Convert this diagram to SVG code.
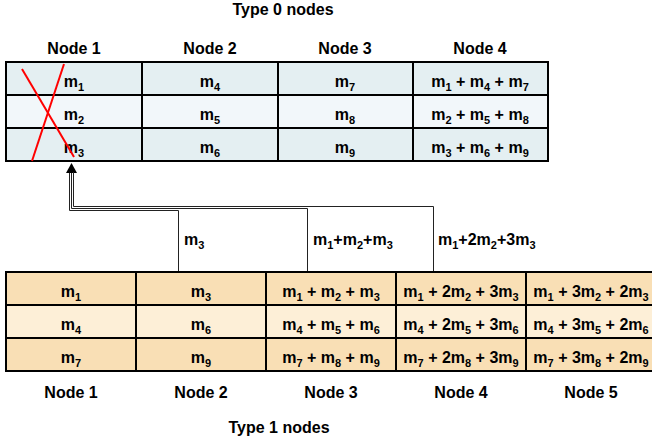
<svg xmlns="http://www.w3.org/2000/svg" width="652" height="445" viewBox="0 0 652 445">
<style>
text{font-family:"Liberation Sans",Arial,sans-serif;font-weight:bold;font-size:16px;fill:#000}
.c{text-anchor:middle}
.s{font-size:11px}
.b1{fill:#e4eff2;stroke:#000;stroke-width:2}
.b2{fill:#f2f7fa;stroke:#000;stroke-width:2}
.o1{fill:#f9dfb5;stroke:#000;stroke-width:2}
.o2{fill:#fdefd7;stroke:#000;stroke-width:2}
.cn{fill:none;stroke:#222;stroke-width:1}
.x{stroke:#ff0000;stroke-width:2}
</style>
<defs>
<marker id="ah" markerWidth="10" markerHeight="11" refX="0" refY="5.5" orient="auto" markerUnits="userSpaceOnUse" viewBox="0 0 10 11">
<path d="M0,0 L10,5.5 L0,11 Z" fill="#000"/>
</marker>
</defs>
<text class="c" x="283" y="15">Type 0 nodes</text>
<text class="c" x="279" y="433">Type 1 nodes</text>

<g id="t0-node1">
<text class="c" x="74" y="54">Node 1</text>
<rect class="b1" x="6" y="62" width="136" height="33"/>
<rect class="b2" x="6" y="95" width="136" height="33"/>
<rect class="b1" x="6" y="128" width="136" height="33"/>
<text class="c" x="74" y="87">m<tspan class="s" dy="4">1</tspan></text>
<text class="c" x="74" y="120">m<tspan class="s" dy="4">2</tspan></text>
<text class="c" x="74" y="153">m<tspan class="s" dy="4">3</tspan></text>
<line class="x" x1="22" y1="69" x2="74" y2="157"/>
<line class="x" x1="64" y1="64" x2="32" y2="161"/>
</g>
<g id="t0-node2">
<text class="c" x="210" y="54">Node 2</text>
<rect class="b1" x="142" y="62" width="136" height="33"/>
<rect class="b2" x="142" y="95" width="136" height="33"/>
<rect class="b1" x="142" y="128" width="136" height="33"/>
<text class="c" x="210" y="87">m<tspan class="s" dy="4">4</tspan></text>
<text class="c" x="210" y="120">m<tspan class="s" dy="4">5</tspan></text>
<text class="c" x="210" y="153">m<tspan class="s" dy="4">6</tspan></text>
</g>
<g id="t0-node3">
<text class="c" x="345" y="54">Node 3</text>
<rect class="b1" x="278" y="62" width="135" height="33"/>
<rect class="b2" x="278" y="95" width="135" height="33"/>
<rect class="b1" x="278" y="128" width="135" height="33"/>
<text class="c" x="345" y="87">m<tspan class="s" dy="4">7</tspan></text>
<text class="c" x="345" y="120">m<tspan class="s" dy="4">8</tspan></text>
<text class="c" x="345" y="153">m<tspan class="s" dy="4">9</tspan></text>
</g>
<g id="t0-node4">
<text class="c" x="480" y="54">Node 4</text>
<rect class="b1" x="413" y="62" width="135" height="33"/>
<rect class="b2" x="413" y="95" width="135" height="33"/>
<rect class="b1" x="413" y="128" width="135" height="33"/>
<text class="c" x="480" y="87">m<tspan class="s" dy="4">1</tspan><tspan dy="-4"> + m</tspan><tspan class="s" dy="4">4</tspan><tspan dy="-4"> + m</tspan><tspan class="s" dy="4">7</tspan></text>
<text class="c" x="480" y="120">m<tspan class="s" dy="4">2</tspan><tspan dy="-4"> + m</tspan><tspan class="s" dy="4">5</tspan><tspan dy="-4"> + m</tspan><tspan class="s" dy="4">8</tspan></text>
<text class="c" x="480" y="153">m<tspan class="s" dy="4">3</tspan><tspan dy="-4"> + m</tspan><tspan class="s" dy="4">6</tspan><tspan dy="-4"> + m</tspan><tspan class="s" dy="4">9</tspan></text>
</g>

<g id="connectors">
<polyline class="cn" points="178.5,272 178.5,210.5 69.5,210.5 69.5,172"/>
<polyline class="cn" points="307.5,272 307.5,208.5 71.5,208.5 71.5,173" marker-end="url(#ah)"/>
<polyline class="cn" points="433.5,272 433.5,206.5 73.5,206.5 73.5,172"/>
<text x="184" y="245">m<tspan class="s" dy="4">3</tspan></text>
<text x="313" y="245">m<tspan class="s" dy="4">1</tspan><tspan dy="-4">+m</tspan><tspan class="s" dy="4">2</tspan><tspan dy="-4">+m</tspan><tspan class="s" dy="4">3</tspan></text>
<text x="438" y="245">m<tspan class="s" dy="4">1</tspan><tspan dy="-4">+2m</tspan><tspan class="s" dy="4">2</tspan><tspan dy="-4">+3m</tspan><tspan class="s" dy="4">3</tspan></text>
</g>

<g id="t1-node1">
<rect class="o1" x="6" y="272" width="130" height="33"/>
<rect class="o2" x="6" y="305" width="130" height="33"/>
<rect class="o1" x="6" y="338" width="130" height="33"/>
<text class="c" x="71" y="297">m<tspan class="s" dy="4">1</tspan></text>
<text class="c" x="71" y="330">m<tspan class="s" dy="4">4</tspan></text>
<text class="c" x="71" y="363">m<tspan class="s" dy="4">7</tspan></text>
<text class="c" x="71" y="398">Node 1</text>
</g>
<g id="t1-node2">
<rect class="o1" x="136" y="272" width="130" height="33"/>
<rect class="o2" x="136" y="305" width="130" height="33"/>
<rect class="o1" x="136" y="338" width="130" height="33"/>
<text class="c" x="201" y="297">m<tspan class="s" dy="4">3</tspan></text>
<text class="c" x="201" y="330">m<tspan class="s" dy="4">6</tspan></text>
<text class="c" x="201" y="363">m<tspan class="s" dy="4">9</tspan></text>
<text class="c" x="201" y="398">Node 2</text>
</g>
<g id="t1-node3">
<rect class="o1" x="266" y="272" width="130" height="33"/>
<rect class="o2" x="266" y="305" width="130" height="33"/>
<rect class="o1" x="266" y="338" width="130" height="33"/>
<text class="c" x="331" y="297">m<tspan class="s" dy="4">1</tspan><tspan dy="-4"> + m</tspan><tspan class="s" dy="4">2</tspan><tspan dy="-4"> + m</tspan><tspan class="s" dy="4">3</tspan></text>
<text class="c" x="331" y="330">m<tspan class="s" dy="4">4</tspan><tspan dy="-4"> + m</tspan><tspan class="s" dy="4">5</tspan><tspan dy="-4"> + m</tspan><tspan class="s" dy="4">6</tspan></text>
<text class="c" x="331" y="363">m<tspan class="s" dy="4">7</tspan><tspan dy="-4"> + m</tspan><tspan class="s" dy="4">8</tspan><tspan dy="-4"> + m</tspan><tspan class="s" dy="4">9</tspan></text>
<text class="c" x="331" y="398">Node 3</text>
</g>
<g id="t1-node4">
<rect class="o1" x="396" y="272" width="130" height="33"/>
<rect class="o2" x="396" y="305" width="130" height="33"/>
<rect class="o1" x="396" y="338" width="130" height="33"/>
<text class="c" x="461" y="297">m<tspan class="s" dy="4">1</tspan><tspan dy="-4"> + 2m</tspan><tspan class="s" dy="4">2</tspan><tspan dy="-4"> + 3m</tspan><tspan class="s" dy="4">3</tspan></text>
<text class="c" x="461" y="330">m<tspan class="s" dy="4">4</tspan><tspan dy="-4"> + 2m</tspan><tspan class="s" dy="4">5</tspan><tspan dy="-4"> + 3m</tspan><tspan class="s" dy="4">6</tspan></text>
<text class="c" x="461" y="363">m<tspan class="s" dy="4">7</tspan><tspan dy="-4"> + 2m</tspan><tspan class="s" dy="4">8</tspan><tspan dy="-4"> + 3m</tspan><tspan class="s" dy="4">9</tspan></text>
<text class="c" x="461" y="398">Node 4</text>
</g>
<g id="t1-node5">
<rect class="o1" x="526" y="272" width="130" height="33"/>
<rect class="o2" x="526" y="305" width="130" height="33"/>
<rect class="o1" x="526" y="338" width="130" height="33"/>
<text class="c" x="591" y="297">m<tspan class="s" dy="4">1</tspan><tspan dy="-4"> + 3m</tspan><tspan class="s" dy="4">2</tspan><tspan dy="-4"> + 2m</tspan><tspan class="s" dy="4">3</tspan></text>
<text class="c" x="591" y="330">m<tspan class="s" dy="4">4</tspan><tspan dy="-4"> + 3m</tspan><tspan class="s" dy="4">5</tspan><tspan dy="-4"> + 2m</tspan><tspan class="s" dy="4">6</tspan></text>
<text class="c" x="591" y="363">m<tspan class="s" dy="4">7</tspan><tspan dy="-4"> + 3m</tspan><tspan class="s" dy="4">8</tspan><tspan dy="-4"> + 2m</tspan><tspan class="s" dy="4">9</tspan></text>
<text class="c" x="591" y="398">Node 5</text>
</g>
</svg>
